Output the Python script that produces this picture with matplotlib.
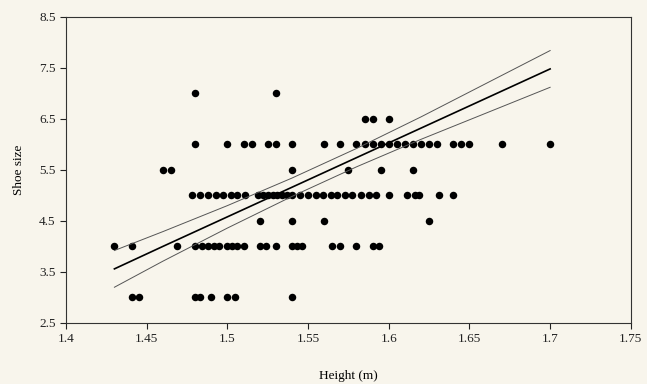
import matplotlib
matplotlib.use('Agg')
import matplotlib.pyplot as plt
import numpy as np

# heights (m) grouped by shoe size
h_size7 = [1.48, 1.53]
h_size65 = [1.585, 1.59, 1.60]
h_size6 = [1.48, 1.50, 1.51, 1.515, 1.525, 1.53, 1.54, 1.56, 1.57, 1.58, 1.585,
           1.59, 1.595, 1.60, 1.605, 1.61, 1.615, 1.62, 1.625, 1.63, 1.64, 1.645,
           1.65, 1.67, 1.70]
h_size55 = [1.46, 1.465, 1.54, 1.575, 1.595, 1.615]
h_size5 = [1.478, 1.483, 1.488, 1.493, 1.497, 1.502, 1.506, 1.511, 1.519, 1.522,
           1.525, 1.528, 1.531, 1.534, 1.537, 1.540, 1.545, 1.550, 1.555, 1.559,
           1.564, 1.568, 1.573, 1.577, 1.583, 1.588, 1.592, 1.600, 1.611, 1.616,
           1.619, 1.631, 1.640]
h_size45 = [1.52, 1.54, 1.56, 1.625]
h_size4 = [1.43, 1.441, 1.469, 1.48, 1.484, 1.488, 1.492, 1.495, 1.50, 1.503,
           1.506, 1.51, 1.52, 1.524, 1.53, 1.54, 1.543, 1.546, 1.565, 1.57, 1.58,
           1.59, 1.594]
h_size3 = [1.441, 1.445, 1.48, 1.483, 1.49, 1.50, 1.505, 1.54]

groups = [(7.0, h_size7), (6.5, h_size65), (6.0, h_size6), (5.5, h_size55),
          (5.0, h_size5), (4.5, h_size45), (4.0, h_size4), (3.0, h_size3)]

# regression line and confidence band
fit_x = [1.43, 1.46, 1.50, 1.54, 1.58, 1.62, 1.66, 1.70]
fit_mid = [3.56, 4.00, 4.58, 5.16, 5.74, 6.32, 6.90, 7.48]
fit_upper = [3.92, 4.29, 4.80, 5.34, 5.92, 6.54, 7.19, 7.84]
fit_lower = [3.20, 3.71, 4.36, 4.98, 5.56, 6.10, 6.61, 7.12]

x_ticks = [1.4, 1.45, 1.5, 1.55, 1.6, 1.65, 1.7, 1.75]
y_ticks = [2.5, 3.5, 4.5, 5.5, 6.5, 7.5, 8.5]

plt.rcParams['font.family'] = ['Liberation Serif', 'DejaVu Serif']

bg = '#f8f5ec'
fig = plt.figure(figsize=(6.47, 3.84), dpi=100, facecolor=bg)
ax = fig.add_axes([0.102, 0.159, 0.873, 0.797], facecolor=bg)

heights = np.concatenate([h for s, h in groups])
sizes = np.concatenate([[s] * len(h) for s, h in groups])
ax.plot(heights, sizes, 'o', color='black', markersize=5.4, markeredgewidth=0)

ax.plot(fit_x, fit_upper, color='#555555', linewidth=0.7)
ax.plot(fit_x, fit_lower, color='#555555', linewidth=0.7)
ax.plot(fit_x, fit_mid, color='black', linewidth=1.2)

ax.set_xlim(1.4, 1.75)
ax.set_ylim(2.5, 8.5)
ax.set_xticks(x_ticks)
ax.set_xticklabels(['1.4', '1.45', '1.5', '1.55', '1.6', '1.65', '1.7', '1.75'])
ax.set_yticks(y_ticks)
ax.set_yticklabels(['2.5', '3.5', '4.5', '5.5', '6.5', '7.5', '8.5'])
ax.tick_params(direction='out', length=4, width=0.8, labelsize=9.5, colors='#222222')
for sp in ax.spines.values():
    sp.set_linewidth(0.8)
    sp.set_color('#333333')

ax.set_xlabel('Height (m)', fontsize=9.5, labelpad=18)
ax.set_ylabel('Shoe size', fontsize=9.5, labelpad=10)

fig.savefig('out.png', dpi=100, facecolor=bg)
